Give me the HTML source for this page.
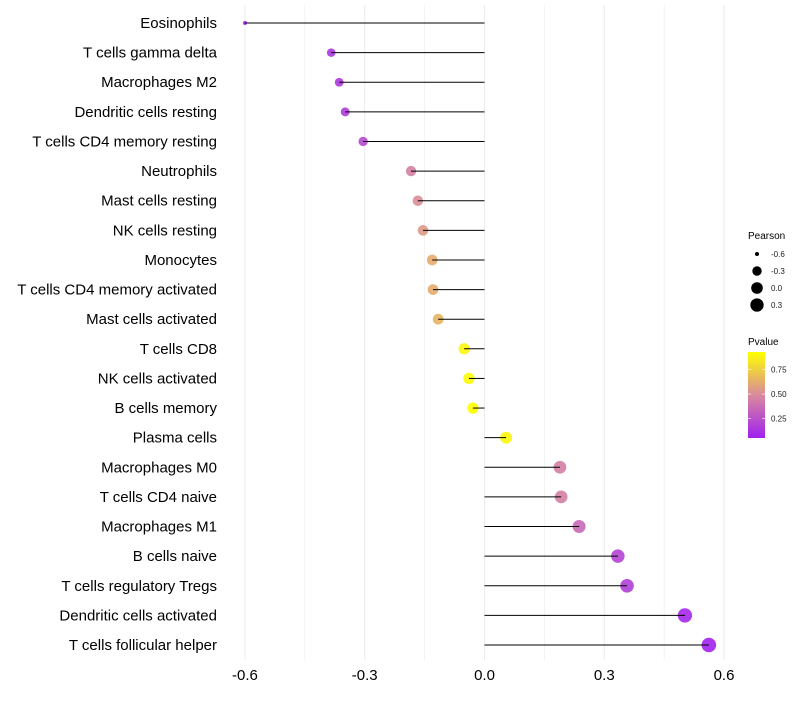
<!DOCTYPE html>
<html><head><meta charset="utf-8"><style>
body{margin:0;background:#fff}
svg text{font-family:"Liberation Sans",sans-serif}
</style></head><body>
<svg id="chart" width="800" height="700" xmlns="http://www.w3.org/2000/svg">
<defs><linearGradient id="pg" x1="0" y1="1" x2="0" y2="0">
<stop offset="0" stop-color="#a020f0"/><stop offset="0.5" stop-color="#d98a9c"/><stop offset="1" stop-color="#ffff00"/>
</linearGradient></defs>
<g id="grid"></g>
<g id="marks"></g>
<g id="labels"></g>
<g id="ticks"></g>
<g>
<text x="748" y="239" font-size="10">Pearson</text>
<g id="sizeLegend"></g>
</g>
<g>
<text x="748" y="345" font-size="10">Pvalue</text>
<rect x="748" y="352" width="17" height="86" fill="url(#pg)"/>
<g id="colorLegend"></g>
</g>
</svg>
<script>
const categories=["Eosinophils","T cells gamma delta","Macrophages M2","Dendritic cells resting","T cells CD4 memory resting","Neutrophils","Mast cells resting","NK cells resting","Monocytes","T cells CD4 memory activated","Mast cells activated","T cells CD8","NK cells activated","B cells memory","Plasma cells","Macrophages M0","T cells CD4 naive","Macrophages M1","B cells naive","T cells regulatory  Tregs","Dendritic cells activated","T cells follicular helper"];
const pearson=[-0.6,-0.384,-0.364,-0.349,-0.304,-0.184,-0.167,-0.154,-0.131,-0.129,-0.116,-0.051,-0.039,-0.029,0.054,0.189,0.192,0.237,0.334,0.357,0.502,0.562];
const pvalue=[0.05,0.14,0.15,0.17,0.22,0.45,0.5,0.55,0.62,0.62,0.65,0.9,0.92,0.93,0.9,0.45,0.45,0.35,0.2,0.18,0.08,0.06];
const xTicks=[-0.6,-0.3,0.0,0.3,0.6];
const xTickLabels=["-0.6","-0.3","0.0","0.3","0.6"];
const sizeLegendVals=[-0.6,-0.3,0.0,0.3];
const sizeLegendLabels=["-0.6","-0.3","0.0","0.3"];
const colorLegendVals=[0.25,0.5,0.75];
const colorLegendLabels=["0.25","0.50","0.75"];

const NS="http://www.w3.org/2000/svg";
const x=v=>484.5+v*399.2;
const y=i=>23+i*(645-23)/(categories.length-1);
const pmin=0.05,pmax=0.93;
const cbY=p=>438-(p-pmin)/(pmax-pmin)*86;
const vmin=-0.6,vmax=0.562;
const r=v=>2+5.3*Math.sqrt(Math.max(0,(v-vmin)/(vmax-vmin)));
function lerp(a,b,t){return a+(b-a)*t}
function hex(h){return [parseInt(h.substr(1,2),16),parseInt(h.substr(3,2),16),parseInt(h.substr(5,2),16)]}
const stops=[[0,hex("#a020f0")],[0.5,hex("#d98a9c")],[1,hex("#ffff00")]];
function color(p){let t=Math.min(1,Math.max(0,(p-pmin)/(pmax-pmin)));let s=t<0.5?0:1;let a=stops[s],b=stops[s+1];let u=(t-a[0])/(b[0]-a[0]);return "rgb("+a[1].map((c,k)=>Math.round(lerp(c,b[1][k],u))).join(",")+")"}
function mk(tag,attrs,parent){const e=document.createElementNS(NS,tag);for(const k in attrs)e.setAttribute(k,attrs[k]);parent.appendChild(e);return e}

const grid=document.getElementById("grid");
for(let k=-4;k<=4;k++){
  const g=mk("line",{x1:x(k*0.15),x2:x(k*0.15),y1:5,y2:660,stroke:"#ebebeb","stroke-width":k%2===0?1:0.6},grid);
  
  
}
const marks=document.getElementById("marks"),labels=document.getElementById("labels");
categories.forEach((c,i)=>{
  const d=mk("circle",{cx:x(pearson[i]),cy:y(i),r:r(pearson[i]),fill:color(pvalue[i]),"fill-opacity":0.9},marks);
  
  
  const l=mk("line",{x1:x(0),x2:x(pearson[i]),y1:y(i),y2:y(i),stroke:"#000","stroke-width":1},marks);
  
  
  const t=mk("text",{x:217,y:y(i)+5,"text-anchor":"end","font-size":15,fill:"#000"},labels);
  t.textContent=c;
  
  
});
const ticks=document.getElementById("ticks");
xTicks.forEach((v,i)=>{
  const t=mk("text",{x:x(v),y:680,"text-anchor":"middle","font-size":15,fill:"#000"},ticks);
  t.textContent=xTickLabels[i];
  
  
});
const sl=document.getElementById("sizeLegend");
sizeLegendVals.forEach((v,i)=>{
  const cy=254+i*17;
  const c=mk("circle",{cx:757,cy:cy,r:r(v),fill:"#000"},sl);
  
  
  const t=mk("text",{x:771,y:cy+3,"font-size":8,fill:"#1a1a1a"},sl);
  t.textContent=sizeLegendLabels[i];
  
  
});
const cl=document.getElementById("colorLegend");
colorLegendVals.forEach((v,i)=>{
  const yy=cbY(v);
  const tk=mk("line",{x1:748,x2:751,y1:yy,y2:yy,stroke:"#fff","stroke-width":0.6},cl);
  
  
  const tk2=mk("line",{x1:762,x2:765,y1:yy,y2:yy,stroke:"#fff","stroke-width":0.6},cl);
  
  
  const t=mk("text",{x:771,y:yy+3,"font-size":8,fill:"#1a1a1a"},cl);
  t.textContent=colorLegendLabels[i];
  
  
});
</script>
</body></html>
